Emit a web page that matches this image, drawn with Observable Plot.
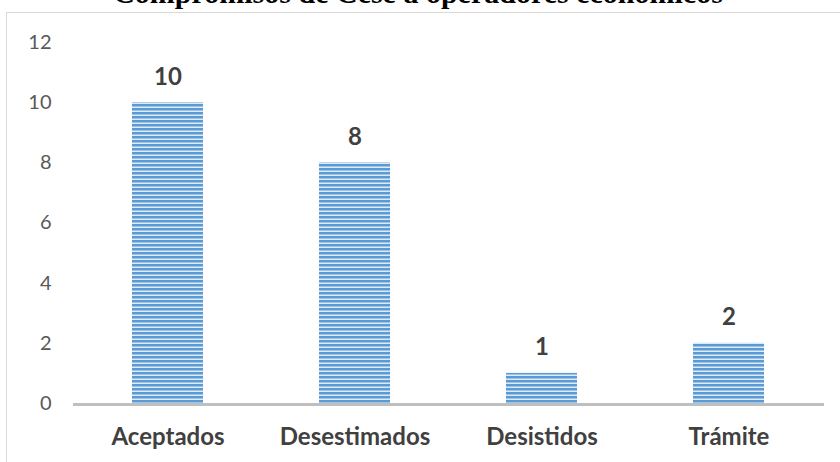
<!DOCTYPE html>
<html>
<head>
<meta charset="utf-8">
<script src="https://cdn.jsdelivr.net/npm/d3@7"></script>
<script src="https://cdn.jsdelivr.net/npm/@observablehq/plot@0.6"></script>
<style>
  html, body { margin: 0; padding: 0; background: #fff; overflow: hidden; }
  #wrap { position: relative; width: 840px; height: 462px; overflow: hidden; }
  #frame { position: absolute; left: 6px; top: 12px; width: 900px; height: 500px; border: 1px solid #d9d9d9; box-sizing: border-box; }
  #title { position: absolute; left: 0; width: 836px; top: -24px; line-height: 33px; text-align: center; font-family: "Liberation Serif", "Times New Roman", serif; font-weight: bold; font-size: 30px; color: #000; white-space: nowrap; }
  #chart { position: absolute; left: 0; top: 0; }
</style>
</head>
<body>
<div id="wrap">
  <div id="frame"></div>
  <div id="title">Compromisos de Cese a operadores económicos</div>
  <div id="chart"></div>
</div>
<script>
const categories = ["Aceptados", "Desestimados", "Desistidos", "Trámite"];
const values = [10, 8, 1, 2];
const yTicks = [0, 2, 4, 6, 8, 10, 12];

const data = categories.map((c, i) => ({ category: c, value: values[i] }));

const chart = Plot.plot({
  width: 840,
  height: 462,
  marginLeft: 73,
  marginRight: 16,
  marginTop: 42,
  marginBottom: 59,
  style: { fontFamily: "Lato, 'Open Sans', sans-serif", background: "transparent", overflow: "visible" },
  x: { domain: categories, paddingInner: 0.62, paddingOuter: 0.31, axis: null },
  y: { domain: [0, 12], axis: null },
  marks: [
    Plot.barY(data, { x: "category", y: "value", fill: "url(#stripes)" }),
    Plot.ruleY([0], { stroke: "#bfbfbf", strokeWidth: 3, dy: 1 }),
    Plot.axisY({ ticks: yTicks, tickSize: 0, tickPadding: 22, fontSize: 20, fill: "#595959", label: null, tickFormat: d => String(d) }),
    Plot.axisX({ tickSize: 0, tickPadding: 24, fontSize: 24, fontWeight: "bold", fill: "#404040", label: null }),
    Plot.text(data, { x: "category", y: "value", text: d => String(d.value), dy: -18, lineAnchor: "bottom", fontSize: 24, fontWeight: "bold", fill: "#404040" })
  ]
});

const ns = "http://www.w3.org/2000/svg";
const defs = document.createElementNS(ns, "defs");
const pat = document.createElementNS(ns, "pattern");
pat.setAttribute("id", "stripes");
pat.setAttribute("patternUnits", "userSpaceOnUse");
pat.setAttribute("width", "8");
pat.setAttribute("height", "4");
const stripes = [["0", "2", "#5b9bd5"], ["2", "1", "#9dc3e6"], ["3", "1", "#deebf7"]];
for (const [y, h, c] of stripes) {
  const r = document.createElementNS(ns, "rect");
  r.setAttribute("x", "0"); r.setAttribute("y", y);
  r.setAttribute("width", "8"); r.setAttribute("height", h);
  r.setAttribute("fill", c);
  pat.appendChild(r);
}
defs.appendChild(pat);
chart.insertBefore(defs, chart.firstChild);
document.getElementById("chart").appendChild(chart);
</script>
</body>
</html>
